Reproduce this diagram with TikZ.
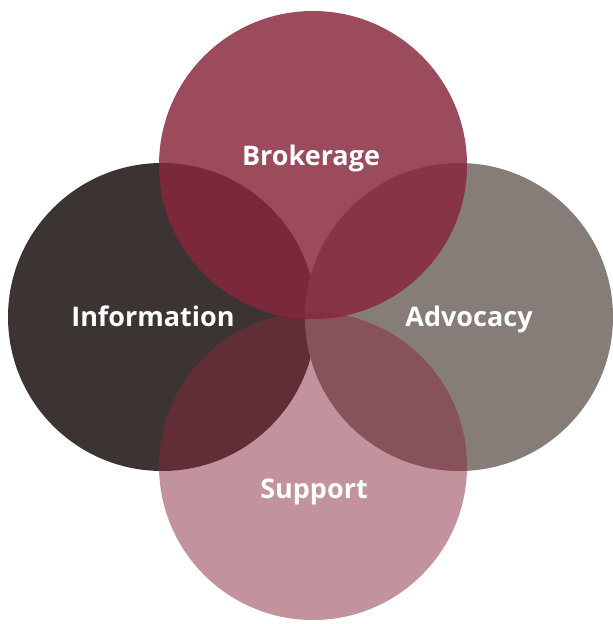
\documentclass[tikz,border=0pt]{standalone}
\usepackage{fontspec}
\setmainfont{Open Sans}
\usepackage{tikz}
\usetikzlibrary{positioning}
\definecolor{wine}{RGB}{136,40,60}
\definecolor{charcoal}{RGB}{59,52,50}
\definecolor{ash}{RGB}{134,125,121}
\tikzset{
  disc/.style={circle,minimum size=308pt,inner sep=0pt},
  lbl/.style={text=white,font=\bfseries\fontsize{27}{31}\selectfont,inner sep=0pt,anchor=base}
}

\begin{document}
\begin{tikzpicture}[x=1pt,y=-1pt]
    \useasboundingbox (0,0) rectangle (613,624);
    \node[disc,fill=charcoal] (info) at (162,317) {};
    \node[disc,fill=ash] (advo) at (459,317) {};
    \node[disc,fill=wine,fill opacity=0.84] (brok) at (313,165) {};
    \node[disc,fill=wine,fill opacity=0.5] (supp) at (313,466) {};
    % labels
    \node[lbl] (tbrok) at (311,165) {Brokerage};
    \node[lbl] (tinfo) at (153,326) {Information};
    \node[lbl] (tadvo) at (469,326) {Advocacy};
    \node[lbl] (tsupp) at (314,498) {Support};
  \end{tikzpicture}
\end{document}
